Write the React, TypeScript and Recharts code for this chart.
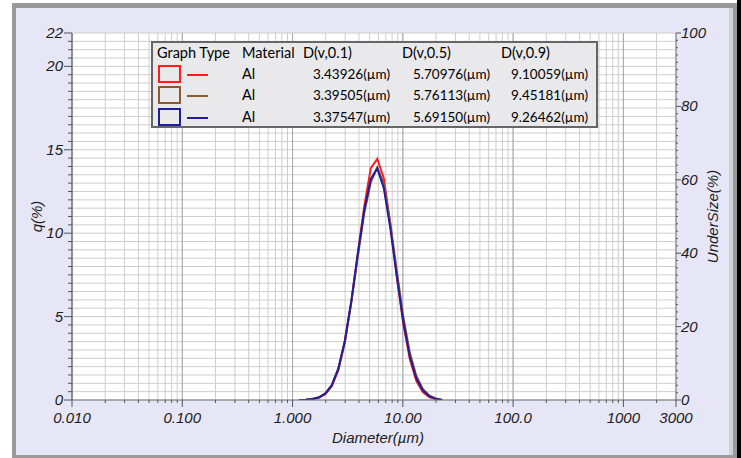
import { LineChart, Line, XAxis, YAxis, CartesianGrid, ReferenceLine, Legend, Label } from "recharts";

// channel diameters (µm) and frequency q(%)
const diameters = [
  1.151, 1.318, 1.51, 1.729, 1.981, 2.269, 2.599, 2.976, 3.409, 3.905, 4.472, 5.122,
  5.867, 6.72, 7.697, 8.816, 10.097, 11.565, 13.246, 15.172, 17.377, 19.904, 22.797,
];
const qRed = [
  0, 0.01, 0.05, 0.13, 0.34, 0.82, 1.78, 3.45, 5.88, 8.8, 11.62, 13.9,
  14.45, 13.3, 10.55, 7.4, 4.55, 2.45, 1.15, 0.48, 0.17, 0.05, 0,
];
const qBrown = [
  0, 0.02, 0.06, 0.16, 0.4, 0.9, 1.88, 3.5, 5.85, 8.6, 11.2, 13.05,
  13.95, 12.95, 10.6, 7.75, 5.0, 2.85, 1.45, 0.66, 0.27, 0.09, 0,
];
const qBlue = [
  0, 0.02, 0.06, 0.15, 0.38, 0.88, 1.86, 3.52, 5.92, 8.74, 11.4, 13.25,
  13.88, 12.7, 10.3, 7.42, 4.7, 2.62, 1.3, 0.58, 0.22, 0.07, 0,
];

const seriesKeys = ["red", "brown", "blue"];
const seriesColors = ["#ff1c1c", "#8a5a2e", "#1e1e9e"];
const materials = ["Al", "Al", "Al"];
const d10 = ["3.43926(µm)", "3.39505(µm)", "3.37547(µm)"];
const d50 = ["5.70976(µm)", "5.76113(µm)", "5.69150(µm)"];
const d90 = ["9.10059(µm)", "9.45181(µm)", "9.26462(µm)"];

const xLabelValues = [0.01, 0.1, 1, 10, 100, 1000, 3000];
const xLabelText = ["0.010", "0.100", "1.000", "10.00", "100.0", "1000", "3000"];
const xDecades = [0.01, 0.1, 1, 10, 100, 1000];
const qLabels = [0, 5, 10, 15, 20, 22];
const underLabels = [0, 20, 40, 60, 80, 100];

const data = diameters.map((d, i) => ({ d, red: qRed[i], brown: qBrown[i], blue: qBlue[i] }));

// minor tick positions (1..9 per decade, up to 3000)
const xTicks: number[] = [];
xDecades.forEach((dec) => {
  for (let k = 1; k <= 9; k++) {
    const v = parseFloat((k * dec).toPrecision(3));
    if (v <= 3000) xTicks.push(v);
  }
});
const qTicks = Array.from({ length: 45 }, (_, i) => i * 0.5);
const underTicks = Array.from({ length: 51 }, (_, i) => i * 2);

const tickFont = {
  fontFamily: "'Liberation Sans', Arial, sans-serif",
  fontStyle: "italic" as const,
  fontSize: 15,
  fill: "#1c1c1c",
};

const same = (a: number, b: number) => a === b || Math.abs(a / b - 1) < 1e-6;

function XTick({ x, y, payload }: any) {
  const i = xLabelValues.findIndex((v) => same(v, payload.value));
  const major = i >= 0;
  return (
    <g>
      <line x1={x} x2={x} y1={y} y2={y + (major ? 7 : 3)} stroke="#555" />
      {major && (
        <text x={x} y={y + 23} textAnchor="middle" {...tickFont}>
          {xLabelText[i]}
        </text>
      )}
    </g>
  );
}

function QTick({ x, y, payload }: any) {
  const major = qLabels.includes(payload.value);
  return (
    <g>
      <line x1={x - (major ? 8 : 4)} x2={x} y1={y} y2={y} stroke="#555" />
      {major && (
        <text x={x - 9} y={y + 5} textAnchor="end" {...tickFont}>
          {payload.value}
        </text>
      )}
    </g>
  );
}

function UnderTick({ x, y, payload }: any) {
  const major = underLabels.includes(payload.value);
  return (
    <g>
      <line x1={x} x2={x + (major ? 5 : 2)} y1={y} y2={y} stroke="#555" />
      {major && (
        <text x={x + 5} y={y + 5} textAnchor="start" {...tickFont}>
          {payload.value}
        </text>
      )}
    </g>
  );
}

function RotTitle({ viewBox, value, cx }: any) {
  const cy = viewBox && viewBox.height ? viewBox.y + viewBox.height / 2 : 217;
  return (
    <text
      x={cx}
      y={cy}
      transform={`rotate(-90 ${cx} ${cy})`}
      textAnchor="middle"
      dominantBaseline="central"
      {...tickFont}
    >
      {value}
    </text>
  );
}

function LegendTable() {
  const ox = 153;
  const oy = 43;
  const cell = (left: number, top: number, txt: string, size: number, right?: boolean) => (
    <span
      style={{
        position: "absolute",
        top: top - 9 - oy,
        lineHeight: "18px",
        fontSize: size,
        whiteSpace: "nowrap",
        ...(right ? { right: ox + 443 - left } : { left: left - ox }),
      }}
    >
      {txt}
    </span>
  );
  const rowY = [74, 95, 117];
  return (
    <div
      style={{
        width: 447,
        height: 87,
        boxSizing: "border-box",
        border: "2px solid #666",
        background: "#e9e9ec",
        position: "relative",
        fontFamily: "Lato, 'DejaVu Sans', sans-serif",
        color: "#000",
      }}
    >
      {cell(157, 53, "Graph Type", 14.5)}
      {cell(242, 53, "Material", 14.5)}
      {cell(303, 53, "D(v,0.1)", 14.5)}
      {cell(402, 53, "D(v,0.5)", 14.5)}
      {cell(501, 53, "D(v,0.9)", 14.5)}
      {seriesKeys.map((k, i) => (
        <div key={k}>
          <div
            style={{
              position: "absolute",
              left: 158 - ox,
              top: rowY[i] - 9 - oy,
              width: 23,
              height: 18,
              boxSizing: "border-box",
              border: `2px solid ${seriesColors[i]}`,
            }}
          />
          <div
            style={{
              position: "absolute",
              left: 187 - ox,
              top: rowY[i] - oy,
              width: 21,
              height: 1.5,
              background: seriesColors[i],
            }}
          />
          {cell(242, rowY[i], materials[i], 14.5)}
          {cell(390, rowY[i], d10[i], 13.5, true)}
          {cell(490, rowY[i], d50[i], 13.5, true)}
          {cell(588, rowY[i], d90[i], 13.5, true)}
        </div>
      ))}
    </div>
  );
}

export default function App() {
  return (
    <div style={{ position: "absolute", left: 0, top: 0, width: 741, height: 458, background: "#fff", overflow: "hidden" }}>
      <div style={{ position: "absolute", left: 12, top: 3, width: 725, height: 455, background: "#9a9a9a" }} />
      <div style={{ position: "absolute", left: 729, top: 8, width: 4, height: 447, background: "#cfcfd6" }} />
      <div style={{ position: "absolute", left: 16, top: 8, width: 713, height: 447, background: "#e6e6f6" }} />
      <div style={{ position: "absolute", left: 737, top: 0, width: 4, height: 458, background: "#000" }} />
      <div style={{ position: "absolute", left: 0, top: 0 }}>
        <LineChart width={741} height={458} data={data} margin={{ top: 33, right: 5, left: 12, bottom: 8 }}>
          <CartesianGrid yAxisId="q" fill="#ffffff" stroke="#cdcdcd" strokeWidth={1} />
          {xDecades.map((v) => (
            <ReferenceLine key={v} x={v} yAxisId="q" stroke="#a8a8a8" />
          ))}
          <XAxis
            dataKey="d"
            type="number"
            scale="log"
            domain={[0.01, 3000]}
            ticks={xTicks}
            interval={0}
            height={50}
            tickSize={0}
            tickMargin={0}
            tick={<XTick />}
            axisLine={{ stroke: "#777" }}
            allowDataOverflow
          >
            <Label
              value="Diameter(µm)"
              content={() => (
                <text x={378} y={443} textAnchor="middle" {...tickFont}>
                  Diameter(µm)
                </text>
              )}
            />
          </XAxis>
          <YAxis
            yAxisId="q"
            domain={[0, 22]}
            ticks={qTicks}
            interval={0}
            width={60}
            tickSize={0}
            tickMargin={0}
            tick={<QTick />}
            axisLine={{ stroke: "#555" }}
            allowDataOverflow
          >
            <Label value="q(%)" content={(p: any) => <RotTitle {...p} value="q(%)" cx={36} />} />
          </YAxis>
          <YAxis
            yAxisId="under"
            orientation="right"
            domain={[0, 100]}
            ticks={underTicks}
            interval={0}
            width={60}
            tickSize={0}
            tickMargin={0}
            tick={<UnderTick />}
            axisLine={{ stroke: "#777" }}
            allowDataOverflow
          >
            <Label value="UnderSize(%)" content={(p: any) => <RotTitle {...p} value="UnderSize(%)" cx={712} />} />
          </YAxis>
          <Legend
            layout="horizontal"
            verticalAlign="middle"
            align="center"
            width={447}
            content={() => <LegendTable />}
            wrapperStyle={{ left: 151, top: 41, width: 447, height: 87 }}
          />
          {seriesKeys.map((k, i) => (
            <Line
              key={k}
              yAxisId="q"
              type="linear"
              dataKey={k}
              stroke={seriesColors[i]}
              strokeWidth={2}
              dot={false}
              isAnimationActive={false}
            />
          ))}
        </LineChart>
      </div>
    </div>
  );
}
